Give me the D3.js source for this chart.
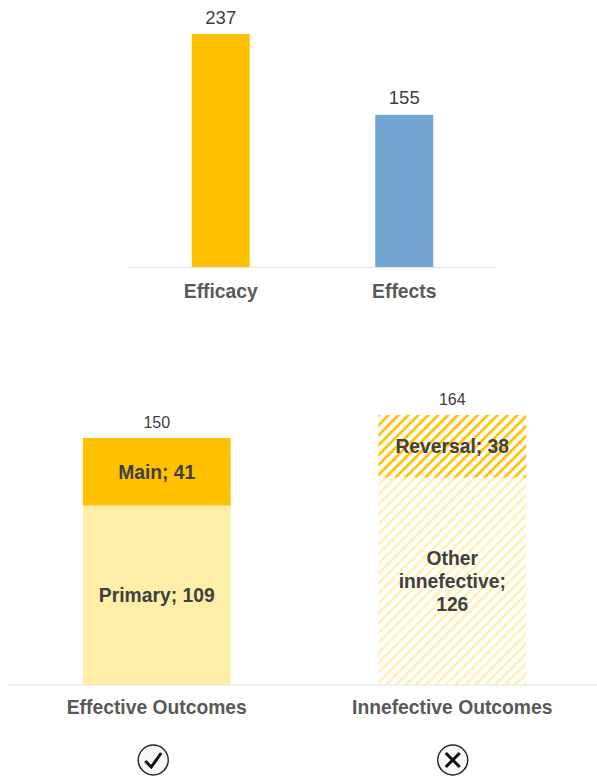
<!DOCTYPE html>
<html><head><meta charset="utf-8">
<script src="https://cdn.jsdelivr.net/npm/d3@7"></script>
<style>html,body{margin:0;padding:0;background:#fff}svg{display:block}text{font-family:"Liberation Sans",Arial,sans-serif}</style>
</head><body><div id="c"></div>
<script>
const topCategories=["Efficacy","Effects"];
const topValues=[237,155];
const topColors=["#FFC000","#73A6D2"];
const bottomCategories=["Effective Outcomes","Innefective Outcomes"];
const lowerLabels=["Primary; 109",["Other","innefective;","126"]];
const lowerValues=[109,126];
const upperLabels=["Main; 41","Reversal; 38"];
const upperValues=[41,38];
const totals=[150,164];
const icons=["check","cross"];

const W=597,H=778;
const svg=d3.select("#c").append("svg").attr("width",W).attr("height",H);
const defs=svg.append("defs");
function hatch(id,color,sw){
  const s=7;
  const p=defs.append("pattern").attr("id",id).attr("patternUnits","userSpaceOnUse")
    .attr("width",s).attr("height",s).attr("patternTransform","rotate(45)");
  p.append("rect").attr("width",s).attr("height",s).attr("fill","#fff");
  p.append("rect").attr("width",sw).attr("height",s).attr("fill",color);
}
hatch("hDark","#FFC000",2.7);
hatch("hLight","#FFEFB0",2.5);

// top chart
const x1=d3.scaleBand().domain(topCategories).range([129,496]).paddingInner(0.684).paddingOuter(0.342);
const y1=d3.scaleLinear().domain([0,237]).range([267.5,34]);
svg.append("g").selectAll("rect").data(topCategories).join("rect")
  .attr("x",d=>x1(d)).attr("width",x1.bandwidth())
  .attr("y",(d,i)=>y1(topValues[i])).attr("height",(d,i)=>y1(0)-y1(topValues[i]))
  .attr("fill",(d,i)=>topColors[i]);
svg.append("g").selectAll("text").data(topCategories).join("text")
  .attr("x",d=>x1(d)+x1.bandwidth()/2).attr("y",(d,i)=>y1(topValues[i])-10.5)
  .attr("text-anchor","middle").attr("font-size",18.5).attr("fill","#404040")
  .text((d,i)=>topValues[i]);
const ax1=svg.append("g").attr("transform","translate(0,267.5)").call(d3.axisBottom(x1).tickSize(0).tickPadding(17));
ax1.attr("font-family",null);
ax1.select(".domain").attr("stroke","#E3E3E3").attr("stroke-width",1.2).attr("d","M129,0H496");
ax1.selectAll("text").attr("font-size",19.3).attr("font-weight","bold").attr("fill","#595959");

// bottom chart
const x2=d3.scaleBand().domain(bottomCategories).range([9,600]).paddingInner(0.5).paddingOuter(0.25);
const y2=d3.scaleLinear().domain([0,150]).range([685,438]);
const g2=svg.append("g");
bottomCategories.forEach((c,i)=>{
  const x=x2(c),w=x2.bandwidth(),cx=x+w/2;
  const yLow=y2(lowerValues[i]),yTop=y2(lowerValues[i]+upperValues[i]);
  g2.append("rect").attr("x",x).attr("width",w).attr("y",yLow).attr("height",y2(0)-yLow)
    .attr("fill",i?"url(#hLight)":"#FFEEA8");
  g2.append("rect").attr("x",x).attr("width",w).attr("y",yTop).attr("height",yLow-yTop)
    .attr("fill",i?"url(#hDark)":"#FFC000");
  g2.append("text").attr("x",cx).attr("y",yTop-10).attr("text-anchor","middle")
    .attr("font-size",16).attr("fill","#404040").text(totals[i]);
  g2.append("text").attr("x",cx).attr("y",(yLow+yTop)/2+7).attr("text-anchor","middle")
    .attr("font-size",19.3).attr("font-weight","bold").attr("fill","#404040").text(upperLabels[i]);
  const ll=[].concat(lowerLabels[i]);
  const mid=(yLow+y2(0))/2, lh=23;
  ll.forEach((t,k)=>{
    g2.append("text").attr("x",cx).attr("y",mid+7+(k-(ll.length-1)/2)*lh).attr("text-anchor","middle")
      .attr("font-size",19.3).attr("font-weight","bold").attr("fill","#404040").text(t);
  });
  // icon
  const ic=g2.append("g").attr("transform",`translate(${cx+(i?0.5:-3.5)},760)`);
  ic.append("circle").attr("r",15).attr("fill","#F8F8F8").attr("stroke","#262626").attr("stroke-width",1.4);
  ic.append("path").attr("fill","none").attr("stroke","#111").attr("stroke-width",3)
    .attr("d",icons[i]==="check"?"M-8,1L-2,7L8,-7":"M-7,-7L7,7M-7,7L7,-7");
});
const ax2=svg.append("g").attr("transform","translate(0,685)").call(d3.axisBottom(x2).tickSize(0).tickPadding(15.5));
ax2.attr("font-family",null);
ax2.select(".domain").attr("stroke","#E3E3E3").attr("stroke-width",1.2).attr("d","M9,0H597");
ax2.selectAll("text").attr("font-size",19.3).attr("font-weight","bold").attr("fill","#595959");
</script></body></html>
